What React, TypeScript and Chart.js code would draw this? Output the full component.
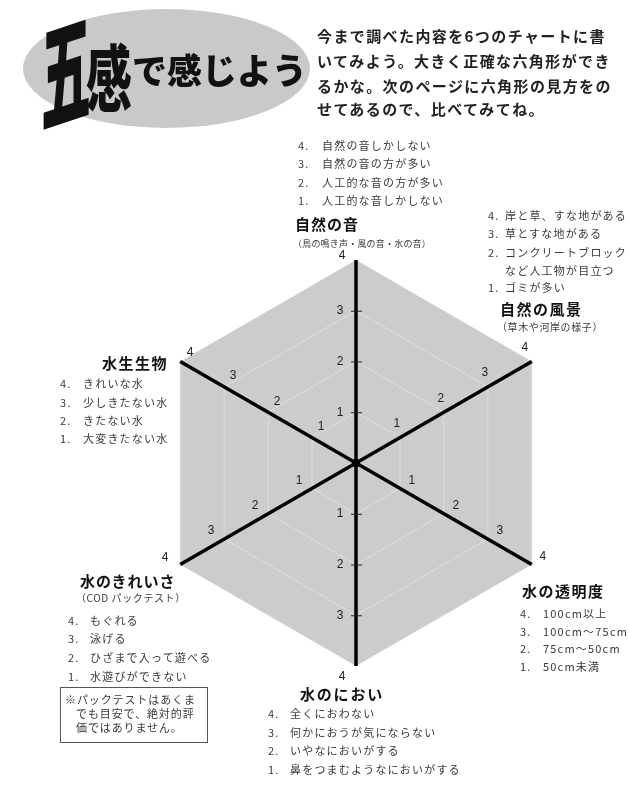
import React, { useEffect, useRef } from 'react';
import { Chart, registerables } from 'chart.js';

Chart.register(...registerables);

// ---- data ----
const axisLabels = ['自然の音', '自然の風景', '水の透明度', '水のにおい', '水のきれいさ', '水生生物'];
const fullScores = [4, 4, 4, 4, 4, 4];
const tickValues = [1, 2, 3, 4];
const scoreMarks = ['4.', '3.', '2.', '1.'];

const introLines = [
  '今まで調べた内容を6つのチャートに書',
  'いてみよう。大きく正確な六角形ができ',
  'るかな。次のページに六角形の見方をの',
  'せてあるので、比べてみてね。',
];

const soundItems = ['自然の音しかしない', '自然の音の方が多い', '人工的な音の方が多い', '人工的な音しかしない'];
const soundSub = '（鳥の鳴き声・風の音・水の音）';
const sceneryItems = ['岸と草、すな地がある', '草とすな地がある', 'コンクリートブロック', 'ゴミが多い'];
const sceneryExtra = 'など人工物が目立つ';
const scenerySub = '（草木や河岸の様子）';
const lifeItems = ['きれいな水', '少しきたない水', 'きたない水', '大変きたない水'];
const cleanItems = ['もぐれる', '泳げる', 'ひざまで入って遊べる', '水遊びができない'];
const cleanSub = '（COD パックテスト）';
const noteLines = ['※パックテストはあくま', 'でも目安で、絶対的評', '価ではありません。'];
const smellItems = ['全くにおわない', '何かにおうが気にならない', 'いやなにおいがする', '鼻をつまむようなにおいがする'];
const clarityItems = ['100cm以上', '100cm〜75cm', '75cm〜50cm', '50cm未満'];

// ---- layout helpers ----
const JP = '"Noto Sans CJK JP", "Noto Sans", sans-serif';

// offsets of tick labels relative to the axis point, per axis (values 1-3, and value 4)
const tickOffsets: number[][] = [[-16, 0], [-3, -14], [12, -8], [-16, 0], [-13, -8], [9, -11]];
const endOffsets: number[][] = [[-14, -4], [-7, -14], [11, -8], [-14, 11], [-15, -7], [10, -9]];

const axisTickPlugin = {
  id: 'axisTicks',
  afterDraw(chart: any) {
    const scale = chart.scales.r;
    const ctx = chart.ctx;
    ctx.save();
    const c = scale.getPointPositionForValue(0, 0);
    ctx.fillStyle = '#000';
    ctx.beginPath();
    ctx.arc(c.x, c.y, 4, 0, Math.PI * 2);
    ctx.fill();
    ctx.font = '12px "Liberation Sans", sans-serif';
    ctx.textAlign = 'center';
    ctx.textBaseline = 'middle';
    axisLabels.forEach((_, i) => {
      tickValues.forEach((v) => {
        const p = scale.getPointPositionForValue(i, v);
        const off = v === tickValues[tickValues.length - 1] ? endOffsets[i] : tickOffsets[i];
        ctx.fillStyle = '#222';
        ctx.fillText(String(v), p.x + off[0], p.y + off[1]);
        if ((i === 0 || i === 3) && v < 4) {
          ctx.strokeStyle = '#222';
          ctx.lineWidth = 1;
          ctx.beginPath();
          ctx.moveTo(p.x - 5, p.y + 0.5);
          ctx.lineTo(p.x + 6, p.y + 0.5);
          ctx.stroke();
        }
      });
    });
    ctx.restore();
  },
};

function T(props: { x: number; y: number; text: string; size?: number; bold?: boolean; spacing?: number; color?: string }) {
  const size = props.size ?? 11;
  return (
    <div
      style={{
        position: 'absolute',
        left: props.x,
        top: props.y - size / 2,
        fontSize: size,
        lineHeight: `${size}px`,
        fontFamily: JP,
        fontWeight: props.bold ? 700 : 400,
        letterSpacing: props.spacing ?? 1.2,
        color: props.color ?? '#3a3a3a',
        whiteSpace: 'nowrap',
      }}
    >
      {props.text}
    </div>
  );
}

function ItemList(props: { numX: number; textX: number; ys: number[]; items: string[] }) {
  return (
    <>
      {props.items.map((t, k) => (
        <React.Fragment key={k}>
          <T x={props.numX} y={props.ys[k]} text={scoreMarks[k]} />
          <T x={props.textX} y={props.ys[k]} text={t} />
        </React.Fragment>
      ))}
    </>
  );
}

export default function App() {
  const ref = useRef<HTMLCanvasElement>(null);

  useEffect(() => {
    if (!ref.current) return;
    const chart = new Chart(ref.current, {
      type: 'radar',
      data: {
        labels: axisLabels,
        datasets: [
          {
            label: '満点',
            data: fullScores,
            backgroundColor: '#cccccc',
            borderWidth: 0,
            pointRadius: 0,
            fill: true,
          },
        ],
      },
      options: {
        responsive: false,
        animation: false,
        layout: { padding: { left: 153, right: 70, top: 260, bottom: 126 } },
        plugins: { legend: { display: false }, tooltip: { enabled: false } },
        scales: {
          r: {
            min: 0,
            max: 4,
            ticks: { stepSize: 1, display: false },
            pointLabels: { display: false },
            grid: {
              z: 1,
              lineWidth: 1,
              color: (c: any) => (c.tick && c.tick.value === 4 ? 'rgba(0,0,0,0)' : '#dfdfdf'),
            },
            angleLines: { color: '#000', lineWidth: 3.5 },
          },
        },
      } as any,
      plugins: [axisTickPlugin],
    });
    return () => chart.destroy();
  }, []);

  return (
    <div style={{ position: 'absolute', left: 0, top: 0, width: 629, height: 792, background: '#fff', overflow: 'hidden' }}>
      <canvas ref={ref} width={629} height={792} style={{ position: 'absolute', left: 0, top: 0, width: 629, height: 792 }} />

      {/* header */}
      <div style={{ position: 'absolute', left: 23, top: 9, width: 287, height: 119, borderRadius: '50%', background: '#c9c9c9' }} />
      <div
        style={{
          position: 'absolute', left: 41, top: 14, fontSize: 50, lineHeight: '50px', fontFamily: JP, fontWeight: 900,
          color: '#111', transform: 'scale(1, 2.35) skewY(-8deg)', transformOrigin: 'top left',
        }}
      >
        五
      </div>
      <div
        style={{
          position: 'absolute', left: 86, top: 38, fontSize: 46, lineHeight: '46px', fontFamily: JP, fontWeight: 900,
          color: '#111', transform: 'scale(1, 1.55)', transformOrigin: 'top left',
        }}
      >
        感
      </div>
      <div
        style={{
          position: 'absolute', left: 132, top: 51, fontSize: 35, lineHeight: '36px', fontFamily: JP, fontWeight: 900,
          color: '#111', whiteSpace: 'nowrap',
        }}
      >
        で感じよう
      </div>
      {introLines.map((t, k) => (
        <T key={k} x={317} y={[35, 60, 85, 108][k]} text={t} size={15} bold spacing={1.4} color="#222" />
      ))}

      {/* 自然の音 */}
      <ItemList numX={298} textX={322} ys={[145, 163, 182, 200]} items={soundItems} />
      <T x={295} y={223} text={axisLabels[0]} size={15} bold spacing={1} color="#111" />
      <T x={293} y={243} text={soundSub} size={9} spacing={0.2} />

      {/* 自然の風景 */}
      <ItemList numX={488} textX={505} ys={[215, 233, 252, 287]} items={sceneryItems} />
      <T x={505} y={270} text={sceneryExtra} />
      <T x={500} y={308} text={axisLabels[1]} size={15} bold spacing={1.5} color="#111" />
      <T x={497} y={327} text={scenerySub} size={10} spacing={0.6} />

      {/* 水の透明度 */}
      <T x={522} y={590} text={axisLabels[2]} size={15} bold spacing={1.5} color="#111" />
      <ItemList numX={520} textX={543} ys={[613, 631, 648, 666]} items={clarityItems} />

      {/* 水のにおい */}
      <T x={300} y={693} text={axisLabels[3]} size={15} bold spacing={1.8} color="#111" />
      <ItemList numX={268} textX={290} ys={[713, 732, 750, 769]} items={smellItems} />

      {/* 水のきれいさ */}
      <T x={80} y={580} text={axisLabels[4]} size={15} bold spacing={1} color="#111" />
      <T x={76} y={598} text={cleanSub} size={10} spacing={0.6} />
      <ItemList numX={68} textX={90} ys={[620, 638, 657, 676]} items={cleanItems} />
      <div style={{ position: 'absolute', left: 60, top: 687, width: 146, height: 54, border: '1px solid #555' }} />
      {noteLines.map((t, k) => (
        <T key={k} x={k === 0 ? 65 : 76} y={[699, 713, 727][k]} text={t} size={11} spacing={0.9} />
      ))}

      {/* 水生生物 */}
      <T x={102} y={362} text={axisLabels[5]} size={15} bold spacing={1.5} color="#111" />
      <ItemList numX={60} textX={83} ys={[383, 402, 420, 438]} items={lifeItems} />
    </div>
  );
}
